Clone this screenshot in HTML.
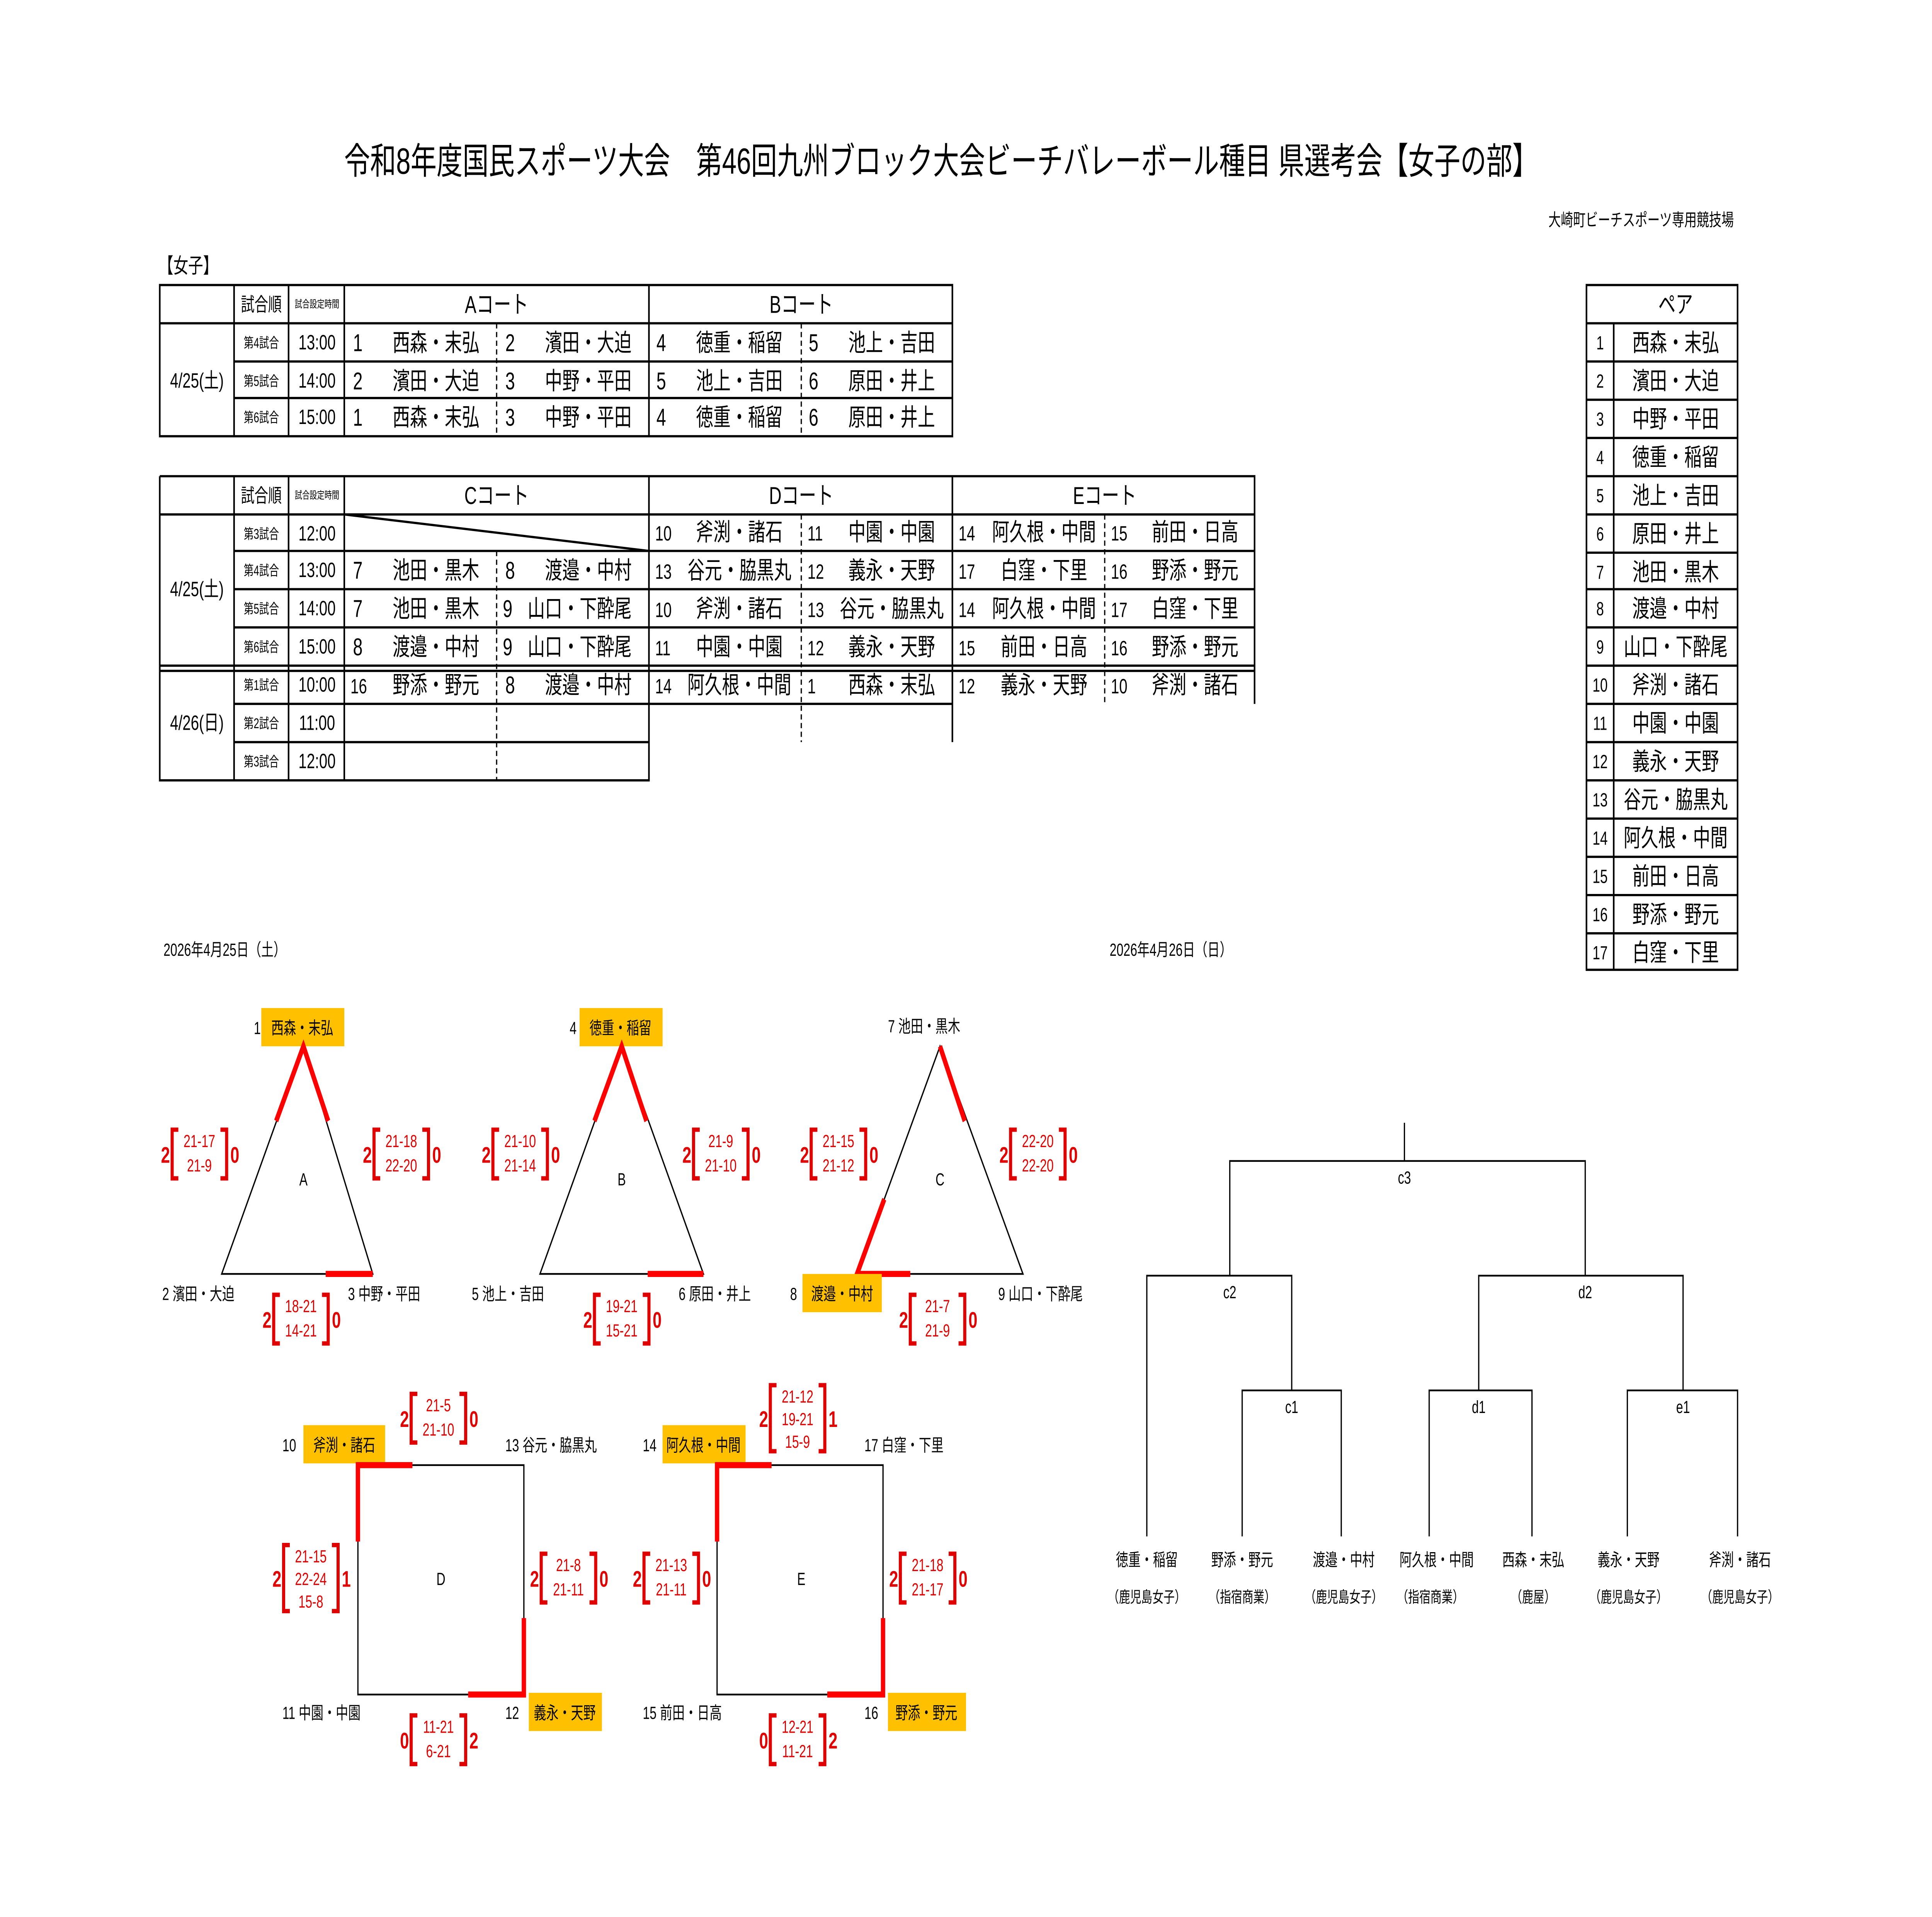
<!DOCTYPE html>
<html><head><meta charset="utf-8">
<style>
html,body{margin:0;padding:0;background:#fff;width:100%;height:100%;overflow:hidden;}
svg{display:block;position:absolute;left:0;top:0;width:100vw;height:100vh;}
text{font-family:"Liberation Sans","Noto Sans CJK JP",sans-serif;fill:#000;}
.t{font-size:14px;}
.s{font-size:8px;}
.m{font-size:10px;}
.r{fill:#e00000;font-size:10px;}
.rb{fill:#e00000;font-size:13px;font-weight:bold;}
.c{text-anchor:middle;}
.e{text-anchor:end;}
.ln{stroke:#000;stroke-width:1.3;fill:none;}
.dl{stroke:#000;stroke-width:1;stroke-dasharray:3,2;fill:none;}
.red{stroke:#f00;stroke-width:3.5;fill:none;}
.br{stroke:#e00000;stroke-width:2.5;fill:none;}
.y{fill:#ffc000;}
</style></head><body>
<svg width="100%" height="100%" viewBox="0 0 1560 1103" preserveAspectRatio="none" xmlns="http://www.w3.org/2000/svg">
<rect width="1560" height="1103" fill="#fff"/>
<text x="760" y="100" class="c" style="font-size:21px">令和8年度国民スポーツ大会　第46回九州ブロック大会ビーチバレーボール種目 県選考会【女子の部】</text>
<text x="1400" y="130" class="e m">大崎町ビーチスポーツ専用競技場</text>
<text x="128" y="157" style="font-size:12px">【女子】</text>

<!-- Table 1 -->
<g>
<rect x="129" y="164" width="640" height="87" class="ln"/>
<path class="ln" d="M129 186H769 M189 208H769 M189 229H769 M189 164V251 M233 164V251 M278 164V251 M524 164V251"/>
<path class="dl" d="M401 186V251 M647 186V251"/>
<text x="211" y="179" class="c" style="font-size:11px">試合順</text>
<text x="256" y="177" class="c" style="font-size:6px">試合設定時間</text>
<text x="401" y="180" class="c t">Aコート</text>
<text x="647" y="180" class="c t">Bコート</text>
<text x="159" y="223" class="c" style="font-size:12px">4/25(土)</text>
<text x="211" y="200" class="c s">第4試合</text><text x="256" y="201" class="c" style="font-size:12px">13:00</text>
<text x="211" y="222" class="c s">第5試合</text><text x="256" y="223" class="c" style="font-size:12px">14:00</text>
<text x="211" y="243" class="c s">第6試合</text><text x="256" y="244" class="c" style="font-size:12px">15:00</text>
<text x="285" y="202" class="t">1</text><text x="352" y="202" class="c t">西森・末弘</text>
<text x="408" y="202" class="t">2</text><text x="475" y="202" class="c t">濱田・大迫</text>
<text x="530" y="202" class="t">4</text><text x="597" y="202" class="c t">徳重・稲留</text>
<text x="653" y="202" class="t">5</text><text x="720" y="202" class="c t">池上・吉田</text>
<text x="285" y="224" class="t">2</text><text x="352" y="224" class="c t">濱田・大迫</text>
<text x="408" y="224" class="t">3</text><text x="475" y="224" class="c t">中野・平田</text>
<text x="530" y="224" class="t">5</text><text x="597" y="224" class="c t">池上・吉田</text>
<text x="653" y="224" class="t">6</text><text x="720" y="224" class="c t">原田・井上</text>
<text x="285" y="245" class="t">1</text><text x="352" y="245" class="c t">西森・末弘</text>
<text x="408" y="245" class="t">3</text><text x="475" y="245" class="c t">中野・平田</text>
<text x="530" y="245" class="t">4</text><text x="597" y="245" class="c t">徳重・稲留</text>
<text x="653" y="245" class="t">6</text><text x="720" y="245" class="c t">原田・井上</text>
</g>

<!-- Table 2 -->
<g>
<path class="ln" d="M129 274H1013V405 M129 274V449H524V274 M129 296H1013 M189 317H1013 M189 339H1013 M189 361H1013 M129 383H1013 M129 386H1013 M189 405H769V386 M189 427H524 M189 274V449 M233 274V449 M278 274V449 M769 274V427"/>
<path class="dl" d="M401 317V449 M647 296V427 M892 296V405"/>
<path class="ln" d="M278 296L524 317"/>
<text x="211" y="289" class="c" style="font-size:11px">試合順</text>
<text x="256" y="287" class="c" style="font-size:6px">試合設定時間</text>
<text x="401" y="290" class="c t">Cコート</text>
<text x="647" y="290" class="c t">Dコート</text>
<text x="892" y="290" class="c t">Eコート</text>
<text x="159" y="343" class="c" style="font-size:12px">4/25(土)</text>
<text x="159" y="420" class="c" style="font-size:12px">4/26(日)</text>
<text x="211" y="310" class="c s">第3試合</text><text x="256" y="311" class="c" style="font-size:12px">12:00</text>
<text x="211" y="331" class="c s">第4試合</text><text x="256" y="332" class="c" style="font-size:12px">13:00</text>
<text x="211" y="353" class="c s">第5試合</text><text x="256" y="354" class="c" style="font-size:12px">14:00</text>
<text x="211" y="375" class="c s">第6試合</text><text x="256" y="376" class="c" style="font-size:12px">15:00</text>
<text x="211" y="397" class="c s">第1試合</text><text x="256" y="398" class="c" style="font-size:12px">10:00</text>
<text x="211" y="419" class="c s">第2試合</text><text x="256" y="420" class="c" style="font-size:12px">11:00</text>
<text x="211" y="441" class="c s">第3試合</text><text x="256" y="442" class="c" style="font-size:12px">12:00</text>
<!-- C -->
<text x="285" y="333" class="t">7</text><text x="352" y="333" class="c t">池田・黒木</text>
<text x="408" y="333" class="t">8</text><text x="475" y="333" class="c t">渡邉・中村</text>
<text x="285" y="355" class="t">7</text><text x="352" y="355" class="c t">池田・黒木</text>
<text x="406" y="355" class="t">9</text><text x="468" y="355" class="c t">山口・下酔尾</text>
<text x="285" y="377" class="t">8</text><text x="352" y="377" class="c t">渡邉・中村</text>
<text x="406" y="377" class="t">9</text><text x="468" y="377" class="c t">山口・下酔尾</text>
<text x="283" y="399" style="font-size:12px">16</text><text x="352" y="399" class="c t">野添・野元</text>
<text x="408" y="399" class="t">8</text><text x="475" y="399" class="c t">渡邉・中村</text>
<!-- D -->
<text x="529" y="311" style="font-size:12px">10</text><text x="597" y="311" class="c t">斧渕・諸石</text>
<text x="652" y="311" style="font-size:12px">11</text><text x="720" y="311" class="c t">中園・中園</text>
<text x="529" y="333" style="font-size:12px">13</text><text x="597" y="333" class="c t">谷元・脇黒丸</text>
<text x="652" y="333" style="font-size:12px">12</text><text x="720" y="333" class="c t">義永・天野</text>
<text x="529" y="355" style="font-size:12px">10</text><text x="597" y="355" class="c t">斧渕・諸石</text>
<text x="652" y="355" style="font-size:12px">13</text><text x="720" y="355" class="c t">谷元・脇黒丸</text>
<text x="529" y="377" style="font-size:12px">11</text><text x="597" y="377" class="c t">中園・中園</text>
<text x="652" y="377" style="font-size:12px">12</text><text x="720" y="377" class="c t">義永・天野</text>
<text x="529" y="399" style="font-size:12px">14</text><text x="597" y="399" class="c t">阿久根・中間</text>
<text x="652" y="399" style="font-size:12px">1</text><text x="720" y="399" class="c t">西森・末弘</text>
<!-- E -->
<text x="774" y="311" style="font-size:12px">14</text><text x="843" y="311" class="c t">阿久根・中間</text>
<text x="897" y="311" style="font-size:12px">15</text><text x="965" y="311" class="c t">前田・日高</text>
<text x="774" y="333" style="font-size:12px">17</text><text x="843" y="333" class="c t">白窪・下里</text>
<text x="897" y="333" style="font-size:12px">16</text><text x="965" y="333" class="c t">野添・野元</text>
<text x="774" y="355" style="font-size:12px">14</text><text x="843" y="355" class="c t">阿久根・中間</text>
<text x="897" y="355" style="font-size:12px">17</text><text x="965" y="355" class="c t">白窪・下里</text>
<text x="774" y="377" style="font-size:12px">15</text><text x="843" y="377" class="c t">前田・日高</text>
<text x="897" y="377" style="font-size:12px">16</text><text x="965" y="377" class="c t">野添・野元</text>
<text x="774" y="399" style="font-size:12px">12</text><text x="843" y="399" class="c t">義永・天野</text>
<text x="897" y="399" style="font-size:12px">10</text><text x="965" y="399" class="c t">斧渕・諸石</text>
</g>

<!-- Pair table -->
<g>
<rect x="1281" y="164" width="122" height="394" class="ln"/>
<path class="ln" d="M1281 186H1403 M1281 208H1403 M1281 230H1403 M1281 252H1403 M1281 274H1403 M1281 296H1403 M1281 318H1403 M1281 339H1403 M1281 361H1403 M1281 383H1403 M1281 405H1403 M1281 427H1403 M1281 449H1403 M1281 471H1403 M1281 493H1403 M1281 515H1403 M1281 537H1403 M1303 186V558"/>
<text x="1353" y="180" class="c t">ペア</text>
<g style="font-size:11px">
<text x="1292" y="201" class="c">1</text><text x="1292" y="223" class="c">2</text><text x="1292" y="245" class="c">3</text><text x="1292" y="267" class="c">4</text><text x="1292" y="289" class="c">5</text><text x="1292" y="311" class="c">6</text><text x="1292" y="333" class="c">7</text><text x="1292" y="354" class="c">8</text><text x="1292" y="376" class="c">9</text><text x="1292" y="398" class="c">10</text><text x="1292" y="420" class="c">11</text><text x="1292" y="442" class="c">12</text><text x="1292" y="464" class="c">13</text><text x="1292" y="486" class="c">14</text><text x="1292" y="508" class="c">15</text><text x="1292" y="530" class="c">16</text><text x="1292" y="552" class="c">17</text>
</g>
<text x="1353" y="202" class="c t">西森・末弘</text>
<text x="1353" y="224" class="c t">濱田・大迫</text>
<text x="1353" y="246" class="c t">中野・平田</text>
<text x="1353" y="268" class="c t">徳重・稲留</text>
<text x="1353" y="290" class="c t">池上・吉田</text>
<text x="1353" y="312" class="c t">原田・井上</text>
<text x="1353" y="334" class="c t">池田・黒木</text>
<text x="1353" y="355" class="c t">渡邉・中村</text>
<text x="1353" y="377" class="c t">山口・下酔尾</text>
<text x="1353" y="399" class="c t">斧渕・諸石</text>
<text x="1353" y="421" class="c t">中園・中園</text>
<text x="1353" y="443" class="c t">義永・天野</text>
<text x="1353" y="465" class="c t">谷元・脇黒丸</text>
<text x="1353" y="487" class="c t">阿久根・中間</text>
<text x="1353" y="509" class="c t">前田・日高</text>
<text x="1353" y="531" class="c t">野添・野元</text>
<text x="1353" y="553" class="c t">白窪・下里</text>
</g>

<text x="132" y="550" class="m">2026年4月25日（土）</text>
<text x="896" y="550" class="m">2026年4月26日（日）</text>

<!-- Triangle A -->
<rect x="211" y="580" width="67" height="22" class="y"/>
<text x="244" y="595" class="c m">西森・末弘</text>
<text x="205" y="595" class="m">1</text>
<path class="ln" d="M245 602L179 733H301Z" style="stroke-width:1"/>
<path class="red" d="M223 645L245 602L265 645 M263 733H301"/>
<text x="245" y="682" class="c m">A</text>
<text x="131" y="748" class="m">2  濱田・大迫</text>
<text x="281" y="748" class="m">3  中野・平田</text>

<!-- Triangle B -->
<rect x="468" y="580" width="67" height="22" class="y"/>
<text x="501" y="595" class="c m">徳重・稲留</text>
<text x="460" y="595" class="m">4</text>
<path class="ln" d="M502 602L436 733H568Z" style="stroke-width:1"/>
<path class="red" d="M480 645L502 602L522 645 M523 733H568"/>
<text x="502" y="682" class="c m">B</text>
<text x="381" y="748" class="m">5  池上・吉田</text>
<text x="548" y="748" class="m">6  原田・井上</text>

<!-- Triangle C -->
<text x="717" y="594" class="m">7  池田・黒木</text>
<path class="ln" d="M759 602L692 733H826Z" style="stroke-width:1"/>
<path class="red" d="M759 602L779 645 M714 690L692 733H735"/>
<rect x="648" y="733" width="64" height="22" class="y"/>
<text x="680" y="748" class="c m">渡邉・中村</text>
<text x="638" y="748" class="m">8</text>
<text x="806" y="748" class="m">9  山口・下酔尾</text>
<text x="759" y="682" class="c m">C</text>

<!-- Square D -->
<rect x="245" y="820" width="66" height="22" class="y"/>
<text x="278" y="835" class="c m">斧渕・諸石</text>
<text x="228" y="835" class="m">10</text>
<text x="408" y="835" class="m">13  谷元・脇黒丸</text>
<rect x="289" y="843" width="134" height="132" class="ln" style="stroke-width:1"/>
<path class="red" d="M289 887V843H333 M378 975H423V931"/>
<text x="356" y="912" class="c m">D</text>
<text x="228" y="989" class="m">11    中園・中園</text>
<rect x="427" y="974" width="59" height="22" class="y"/>
<text x="456" y="989" class="c m">義永・天野</text>
<text x="408" y="989" class="m">12</text>

<!-- Square E -->
<rect x="535" y="820" width="67" height="22" class="y"/>
<text x="568" y="835" class="c m">阿久根・中間</text>
<text x="519" y="835" class="m">14</text>
<text x="698" y="835" class="m">17  白窪・下里</text>
<rect x="579" y="843" width="134" height="132" class="ln" style="stroke-width:1"/>
<path class="red" d="M579 887V843H623 M668 975H713V931"/>
<text x="647" y="912" class="c m">E</text>
<text x="519" y="989" class="m">15   前田・日高</text>
<rect x="717" y="974" width="63" height="22" class="y"/>
<text x="748" y="989" class="c m">野添・野元</text>
<text x="698" y="989" class="m">16</text>

<!-- Score groups -->
<g transform="translate(129,649)"><text x="1" y="20" class="rb">2</text><path class="br" d="M15 1H10V29H15 M49 1H54V29H49"/><text x="32" y="11" class="r c">21-17</text><text x="32" y="25" class="r c">21-9</text><text x="57" y="20" class="rb">0</text></g>
<g transform="translate(292,649)"><text x="1" y="20" class="rb">2</text><path class="br" d="M15 1H10V29H15 M49 1H54V29H49"/><text x="32" y="11" class="r c">21-18</text><text x="32" y="25" class="r c">22-20</text><text x="57" y="20" class="rb">0</text></g>
<g transform="translate(211,744)"><text x="1" y="20" class="rb">2</text><path class="br" d="M15 1H10V29H15 M49 1H54V29H49"/><text x="32" y="11" class="r c">18-21</text><text x="32" y="25" class="r c">14-21</text><text x="57" y="20" class="rb">0</text></g>

<g transform="translate(388,649)"><text x="1" y="20" class="rb">2</text><path class="br" d="M15 1H10V29H15 M49 1H54V29H49"/><text x="32" y="11" class="r c">21-10</text><text x="32" y="25" class="r c">21-14</text><text x="57" y="20" class="rb">0</text></g>
<g transform="translate(550,649)"><text x="1" y="20" class="rb">2</text><path class="br" d="M15 1H10V29H15 M49 1H54V29H49"/><text x="32" y="11" class="r c">21-9</text><text x="32" y="25" class="r c">21-10</text><text x="57" y="20" class="rb">0</text></g>
<g transform="translate(470,744)"><text x="1" y="20" class="rb">2</text><path class="br" d="M15 1H10V29H15 M49 1H54V29H49"/><text x="32" y="11" class="r c">19-21</text><text x="32" y="25" class="r c">15-21</text><text x="57" y="20" class="rb">0</text></g>

<g transform="translate(645,649)"><text x="1" y="20" class="rb">2</text><path class="br" d="M15 1H10V29H15 M49 1H54V29H49"/><text x="32" y="11" class="r c">21-15</text><text x="32" y="25" class="r c">21-12</text><text x="57" y="20" class="rb">0</text></g>
<g transform="translate(806,649)"><text x="1" y="20" class="rb">2</text><path class="br" d="M15 1H10V29H15 M49 1H54V29H49"/><text x="32" y="11" class="r c">22-20</text><text x="32" y="25" class="r c">22-20</text><text x="57" y="20" class="rb">0</text></g>
<g transform="translate(725,744)"><text x="1" y="20" class="rb">2</text><path class="br" d="M15 1H10V29H15 M49 1H54V29H49"/><text x="32" y="11" class="r c">21-7</text><text x="32" y="25" class="r c">21-9</text><text x="57" y="20" class="rb">0</text></g>

<g transform="translate(322,801)"><text x="1" y="20" class="rb">2</text><path class="br" d="M15 1H10V29H15 M49 1H54V29H49"/><text x="32" y="11" class="r c">21-5</text><text x="32" y="25" class="r c">21-10</text><text x="57" y="20" class="rb">0</text></g>
<g transform="translate(427,893)"><text x="1" y="20" class="rb">2</text><path class="br" d="M15 1H10V29H15 M49 1H54V29H49"/><text x="32" y="11" class="r c">21-8</text><text x="32" y="25" class="r c">21-11</text><text x="57" y="20" class="rb">0</text></g>
<g transform="translate(322,986)"><text x="1" y="20" class="rb">0</text><path class="br" d="M15 1H10V29H15 M49 1H54V29H49"/><text x="32" y="11" class="r c">11-21</text><text x="32" y="25" class="r c">6-21</text><text x="57" y="20" class="rb">2</text></g>
<g transform="translate(219,888)"><text x="1" y="25" class="rb">2</text><path class="br" d="M15 1H10V39H15 M49 1H54V39H49"/><text x="32" y="11" class="r c">21-15</text><text x="32" y="24" class="r c">22-24</text><text x="32" y="37" class="r c">15-8</text><text x="57" y="25" class="rb">1</text></g>

<g transform="translate(612,796)"><text x="1" y="25" class="rb">2</text><path class="br" d="M15 1H10V39H15 M49 1H54V39H49"/><text x="32" y="11" class="r c">21-12</text><text x="32" y="24" class="r c">19-21</text><text x="32" y="37" class="r c">15-9</text><text x="57" y="25" class="rb">1</text></g>
<g transform="translate(510,893)"><text x="1" y="20" class="rb">2</text><path class="br" d="M15 1H10V29H15 M49 1H54V29H49"/><text x="32" y="11" class="r c">21-13</text><text x="32" y="25" class="r c">21-11</text><text x="57" y="20" class="rb">0</text></g>
<g transform="translate(717,893)"><text x="1" y="20" class="rb">2</text><path class="br" d="M15 1H10V29H15 M49 1H54V29H49"/><text x="32" y="11" class="r c">21-18</text><text x="32" y="25" class="r c">21-17</text><text x="57" y="20" class="rb">0</text></g>
<g transform="translate(612,986)"><text x="1" y="20" class="rb">0</text><path class="br" d="M15 1H10V29H15 M49 1H54V29H49"/><text x="32" y="11" class="r c">12-21</text><text x="32" y="25" class="r c">11-21</text><text x="57" y="20" class="rb">2</text></g>

<!-- Bracket -->
<path class="ln" style="stroke-width:1" d="M1134 646V668 M993 734V668H1280V734 M926 884V734H1043V800 M1194 800V734H1359V800 M1003 884V800H1083V884 M1154 884V800H1237V884 M1314 884V800H1403V884"/>
<text x="1134" y="681" class="c m">c3</text>
<text x="993" y="747" class="c m">c2</text>
<text x="1280" y="747" class="c m">d2</text>
<text x="1043" y="813" class="c m">c1</text>
<text x="1194" y="813" class="c m">d1</text>
<text x="1359" y="813" class="c m">e1</text>
<text x="926" y="901" class="c m">徳重・稲留</text>
<text x="1003" y="901" class="c m">野添・野元</text>
<text x="1085" y="901" class="c m">渡邉・中村</text>
<text x="1160" y="901" class="c m">阿久根・中間</text>
<text x="1238" y="901" class="c m">西森・末弘</text>
<text x="1315" y="901" class="c m">義永・天野</text>
<text x="1405" y="901" class="c m">斧渕・諸石</text>
<text x="926" y="922" class="c" style="font-size:9px">（鹿児島女子）</text>
<text x="1003" y="922" class="c" style="font-size:9px">（指宿商業）</text>
<text x="1085" y="922" class="c" style="font-size:9px">（鹿児島女子）</text>
<text x="1155" y="922" class="c" style="font-size:9px">（指宿商業）</text>
<text x="1238" y="922" class="c" style="font-size:9px">（鹿屋）</text>
<text x="1315" y="922" class="c" style="font-size:9px">（鹿児島女子）</text>
<text x="1405" y="922" class="c" style="font-size:9px">（鹿児島女子）</text>
</svg>
</body></html>
